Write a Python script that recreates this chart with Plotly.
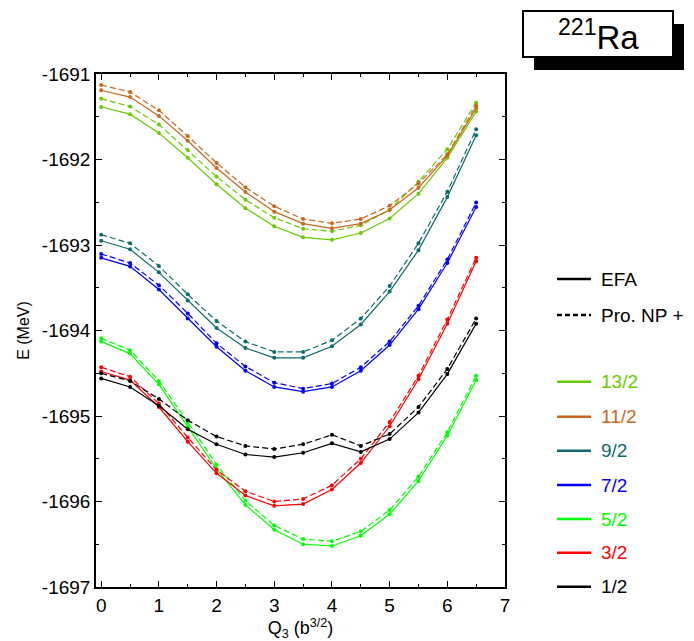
import plotly.graph_objects as go

OFF = 8  # default page body margin in the browser
W, H = 694 - OFF, 641 - OFF
L, R, T, B = 96 - OFF, 505 - OFF, 74 - OFF, 587 - OFF  # plot area in figure pixels

q3 = [0, 0.5, 1, 1.5, 2, 2.5, 3, 3.5, 4, 4.5, 5, 5.5, 6, 6.5]

k13_efa = [-1691.386, -1691.47, -1691.69, -1691.98, -1692.29, -1692.57, -1692.78, -1692.91, -1692.94, -1692.86, -1692.69, -1692.40, -1691.98, -1691.44]
k13_np = [-1691.29, -1691.38, -1691.59, -1691.89, -1692.20, -1692.47, -1692.68, -1692.81, -1692.84, -1692.77, -1692.59, -1692.26, -1691.88, -1691.335]
k11_efa = [-1691.19, -1691.27, -1691.49, -1691.78, -1692.10, -1692.38, -1692.61, -1692.75, -1692.805, -1692.75, -1692.59, -1692.33, -1691.955, -1691.40]
k11_np = [-1691.13, -1691.21, -1691.425, -1691.725, -1692.04, -1692.325, -1692.547, -1692.696, -1692.746, -1692.696, -1692.54, -1692.28, -1691.94, -1691.37]
k9_efa = [-1692.95, -1693.05, -1693.32, -1693.65, -1693.97, -1694.205, -1694.32, -1694.32, -1694.185, -1693.93, -1693.545, -1693.06, -1692.44, -1691.717]
k9_np = [-1692.88, -1692.98, -1693.245, -1693.577, -1693.89, -1694.13, -1694.25, -1694.25, -1694.115, -1693.86, -1693.48, -1692.98, -1692.376, -1691.647]
k7_efa = [-1693.15, -1693.25, -1693.52, -1693.86, -1694.19, -1694.47, -1694.66, -1694.715, -1694.66, -1694.47, -1694.17, -1693.75, -1693.21, -1692.555]
k7_np = [-1693.105, -1693.21, -1693.47, -1693.80, -1694.15, -1694.42, -1694.61, -1694.68, -1694.62, -1694.43, -1694.13, -1693.71, -1693.17, -1692.504]
k5_efa = [-1694.13, -1694.27, -1694.63, -1695.12, -1695.62, -1696.04, -1696.33, -1696.50, -1696.52, -1696.40, -1696.15, -1695.76, -1695.23, -1694.58]
k5_np = [-1694.09, -1694.23, -1694.59, -1695.07, -1695.57, -1695.99, -1696.28, -1696.44, -1696.465, -1696.35, -1696.10, -1695.71, -1695.19, -1694.53]
k3_efa = [-1694.48, -1694.58, -1694.895, -1695.30, -1695.67, -1695.93, -1696.05, -1696.03, -1695.86, -1695.55, -1695.12, -1694.57, -1693.92, -1693.19]
k3_np = [-1694.43, -1694.54, -1694.855, -1695.25, -1695.63, -1695.88, -1696.00, -1695.97, -1695.81, -1695.50, -1695.07, -1694.53, -1693.87, -1693.15]
k1_efa = [-1694.56, -1694.66, -1694.88, -1695.155, -1695.33, -1695.45, -1695.48, -1695.43, -1695.32, -1695.42, -1695.27, -1694.96, -1694.51, -1693.92]
k1_np = [-1694.50, -1694.59, -1694.80, -1695.05, -1695.24, -1695.35, -1695.386, -1695.33, -1695.22, -1695.35, -1695.21, -1694.895, -1694.45, -1693.86]

k_labels = ["13/2", "11/2", "9/2", "7/2", "5/2", "3/2", "1/2"]
k_colors = ["#66cc00", "#c8681e", "#0d6b6b", "#0000ff", "#00ff00", "#ff0000", "#000000"]
efa_series = [k13_efa, k11_efa, k9_efa, k7_efa, k5_efa, k3_efa, k1_efa]
np_series = [k13_np, k11_np, k9_np, k7_np, k5_np, k3_np, k1_np]

method_labels = ["EFA", "Pro. NP +"]
tick_vals_x = [0, 1, 2, 3, 4, 5, 6, 7]
tick_text_x = ["0", "1", "2", "3", "4", "5", "6", "7"]
tick_vals_y = [-1697, -1696, -1695, -1694, -1693, -1692, -1691]
tick_text_y = ["-1697", "-1696", "-1695", "-1694", "-1693", "-1692", "-1691"]

fig = go.Figure()
for lab, col, ye, yn in zip(k_labels, k_colors, efa_series, np_series):
    fig.add_trace(go.Scatter(x=q3, y=yn, mode="lines+markers", name=lab + " NP",
                             line=dict(color=col, width=1.2, dash="6px,3px"),
                             marker=dict(color=col, size=4), showlegend=False))
    fig.add_trace(go.Scatter(x=q3, y=ye, mode="lines+markers", name=lab + " EFA",
                             line=dict(color=col, width=1.2),
                             marker=dict(color=col, size=4), showlegend=False))


def px_x(p):
    # screen pixel -> paper coordinate
    return (p - OFF - L) / (R - L)


def px_y(p):
    return (B - (p - OFF)) / (B - T)


shapes = []
annotations = []
FONT = "Liberation Sans, Arial, sans-serif"

# custom legend
leg_rows = [(279, method_labels[0], "#000000", "solid"), (315, method_labels[1], "#000000", "dash")]
ys = [381.7, 416.7, 450.7, 485, 519, 552.7, 586.7]
for yy, lab, col in zip(ys, k_labels, k_colors):
    leg_rows.append((yy, lab, col, "solid"))
for yy, lab, col, ds in leg_rows:
    shapes.append(dict(type="line", xref="paper", yref="paper",
                       x0=px_x(557), x1=px_x(591), y0=px_y(yy), y1=px_y(yy),
                       line=dict(color=col, width=2.5, dash="5px,3px" if ds == "dash" else "solid")))
    annotations.append(dict(x=px_x(599), y=px_y(yy), xref="paper", yref="paper",
                            text=lab, showarrow=False, xanchor="left", yanchor="middle",
                            font=dict(size=19, color=col, family=FONT)))

# title box with shadow
shapes.append(dict(type="rect", xref="paper", yref="paper",
                   x0=px_x(534), x1=px_x(684), y0=px_y(70), y1=px_y(24),
                   fillcolor="black", line=dict(color="black", width=0)))
shapes.append(dict(type="rect", xref="paper", yref="paper",
                   x0=px_x(523), x1=px_x(673), y0=px_y(57), y1=px_y(11),
                   fillcolor="white", line=dict(color="black", width=2)))
annotations.append(dict(x=px_x(598), y=px_y(35), xref="paper", yref="paper",
                        text="<sup>221</sup>Ra", showarrow=False, xanchor="center", yanchor="middle",
                        font=dict(size=33, color="black", family=FONT)))

axis_common = dict(showline=True, linecolor="black", linewidth=1.5, mirror="ticks",
                   ticks="inside", ticklen=6, tickwidth=1.2, tickcolor="black",
                   showgrid=False, zeroline=False,
                   tickfont=dict(size=19, family=FONT, color="black"))

fig.update_layout(
    width=W, height=H,
    margin=dict(l=L, r=W - R, t=T, b=H - B),
    plot_bgcolor="white", paper_bgcolor="white",
    showlegend=False,
    shapes=shapes, annotations=annotations,
    xaxis=dict(range=[-0.09, 7], tickvals=tick_vals_x, ticktext=tick_text_x,
               minor=dict(ticks="inside", ticklen=3, dtick=0.5, tickcolor="black", showgrid=False),
               title=dict(text="Q<sub>3</sub> (b<sup>3/2</sup>)", font=dict(size=18, family=FONT, color="black"), standoff=0),
               **axis_common),
    yaxis=dict(range=[-1697, -1691], tickvals=tick_vals_y, ticktext=tick_text_y,
               minor=dict(ticks="inside", ticklen=3, dtick=0.5, tickcolor="black", showgrid=False),
               title=dict(text="E (MeV)", font=dict(size=16, family=FONT, color="black"), standoff=8),
               **axis_common),
)

fig.write_html("out.html")
